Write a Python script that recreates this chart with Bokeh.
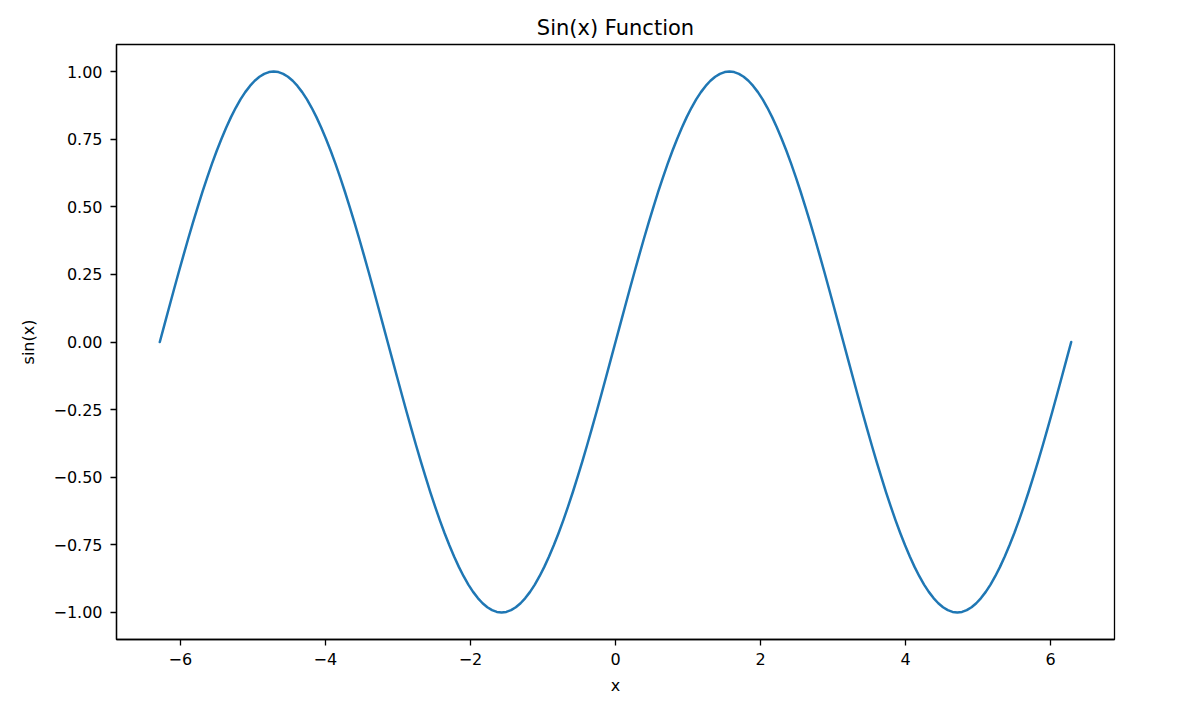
from bokeh.plotting import figure
from bokeh.models import Range1d, FixedTicker, CustomJSTickFormatter
from bokeh.embed import file_html
from bokeh.resources import INLINE

x_values = [
    -6.2832, -6.2177, -6.1523, -6.0868, -6.0214, -5.9559, -5.8905, -5.8250,
    -5.7596, -5.6941, -5.6287, -5.5632, -5.4978, -5.4323, -5.3669, -5.3014,
    -5.2360, -5.1705, -5.1051, -5.0396, -4.9742, -4.9087, -4.8433, -4.7778,
    -4.7124, -4.6469, -4.5815, -4.5160, -4.4506, -4.3851, -4.3197, -4.2542,
    -4.1888, -4.1233, -4.0579, -3.9924, -3.9270, -3.8615, -3.7961, -3.7306,
    -3.6652, -3.5997, -3.5343, -3.4688, -3.4034, -3.3379, -3.2725, -3.2070,
    -3.1416, -3.0761, -3.0107, -2.9452, -2.8798, -2.8143, -2.7489, -2.6834,
    -2.6180, -2.5525, -2.4871, -2.4216, -2.3562, -2.2907, -2.2253, -2.1598,
    -2.0944, -2.0289, -1.9635, -1.8980, -1.8326, -1.7671, -1.7017, -1.6362,
    -1.5708, -1.5053, -1.4399, -1.3744, -1.3090, -1.2435, -1.1781, -1.1126,
    -1.0472, -0.9817, -0.9163, -0.8508, -0.7854, -0.7199, -0.6545, -0.5890,
    -0.5236, -0.4581, -0.3927, -0.3272, -0.2618, -0.1963, -0.1309, -0.0654,
    0.0,
    0.0654, 0.1309, 0.1963, 0.2618, 0.3272, 0.3927, 0.4581, 0.5236,
    0.5890, 0.6545, 0.7199, 0.7854, 0.8508, 0.9163, 0.9817, 1.0472,
    1.1126, 1.1781, 1.2435, 1.3090, 1.3744, 1.4399, 1.5053, 1.5708,
    1.6362, 1.7017, 1.7671, 1.8326, 1.8980, 1.9635, 2.0289, 2.0944,
    2.1598, 2.2253, 2.2907, 2.3562, 2.4216, 2.4871, 2.5525, 2.6180,
    2.6834, 2.7489, 2.8143, 2.8798, 2.9452, 3.0107, 3.0761, 3.1416,
    3.2070, 3.2725, 3.3379, 3.4034, 3.4688, 3.5343, 3.5997, 3.6652,
    3.7306, 3.7961, 3.8615, 3.9270, 3.9924, 4.0579, 4.1233, 4.1888,
    4.2542, 4.3197, 4.3851, 4.4506, 4.5160, 4.5815, 4.6469, 4.7124,
    4.7778, 4.8433, 4.9087, 4.9742, 5.0396, 5.1051, 5.1705, 5.2360,
    5.3014, 5.3669, 5.4323, 5.4978, 5.5632, 5.6287, 5.6941, 5.7596,
    5.8250, 5.8905, 5.9559, 6.0214, 6.0868, 6.1523, 6.2177, 6.2832,
]

y_values = [
    0.0,
    0.0654, 0.1305, 0.1951, 0.2588, 0.3214, 0.3827, 0.4423, 0.5, 0.5556, 0.6088, 0.6593, 0.7071,
    0.7518, 0.7934, 0.8315, 0.866, 0.8969, 0.9239, 0.9469, 0.9659, 0.9808, 0.9914, 0.9979, 1.0,
    0.9979, 0.9914, 0.9808, 0.9659, 0.9469, 0.9239, 0.8969, 0.866, 0.8315, 0.7934, 0.7518, 0.7071,
    0.6593, 0.6088, 0.5556, 0.5, 0.4423, 0.3827, 0.3214, 0.2588, 0.1951, 0.1305, 0.0654, 0.0,
    -0.0654, -0.1305, -0.1951, -0.2588, -0.3214, -0.3827, -0.4423, -0.5, -0.5556, -0.6088, -0.6593, -0.7071,
    -0.7518, -0.7934, -0.8315, -0.866, -0.8969, -0.9239, -0.9469, -0.9659, -0.9808, -0.9914, -0.9979, -1.0,
    -0.9979, -0.9914, -0.9808, -0.9659, -0.9469, -0.9239, -0.8969, -0.866, -0.8315, -0.7934, -0.7518, -0.7071,
    -0.6593, -0.6088, -0.5556, -0.5, -0.4423, -0.3827, -0.3214, -0.2588, -0.1951, -0.1305, -0.0654, 0.0,
    0.0654, 0.1305, 0.1951, 0.2588, 0.3214, 0.3827, 0.4423, 0.5, 0.5556, 0.6088, 0.6593, 0.7071,
    0.7518, 0.7934, 0.8315, 0.866, 0.8969, 0.9239, 0.9469, 0.9659, 0.9808, 0.9914, 0.9979, 1.0,
    0.9979, 0.9914, 0.9808, 0.9659, 0.9469, 0.9239, 0.8969, 0.866, 0.8315, 0.7934, 0.7518, 0.7071,
    0.6593, 0.6088, 0.5556, 0.5, 0.4423, 0.3827, 0.3214, 0.2588, 0.1951, 0.1305, 0.0654, 0.0,
    -0.0654, -0.1305, -0.1951, -0.2588, -0.3214, -0.3827, -0.4423, -0.5, -0.5556, -0.6088, -0.6593, -0.7071,
    -0.7518, -0.7934, -0.8315, -0.866, -0.8969, -0.9239, -0.9469, -0.9659, -0.9808, -0.9914, -0.9979, -1.0,
    -0.9979, -0.9914, -0.9808, -0.9659, -0.9469, -0.9239, -0.8969, -0.866, -0.8315, -0.7934, -0.7518, -0.7071,
    -0.6593, -0.6088, -0.5556, -0.5, -0.4423, -0.3827, -0.3214, -0.2588, -0.1951, -0.1305, -0.0654, 0.0,
]

x_ticks = [-6, -4, -2, 0, 2, 4, 6]
y_ticks = [-1.0, -0.75, -0.5, -0.25, 0.0, 0.25, 0.5, 0.75, 1.0]

title_text = "Sin(x) Function"
x_label = "x"
y_label = "sin(x)"

FONT = "DejaVu Sans"

p = figure(
    frame_width=998, frame_height=595,
    min_border_left=116, min_border_right=80,
    min_border_top=44, min_border_bottom=60,
    x_range=Range1d(-6.88, 6.88), y_range=Range1d(-1.1, 1.1),
    output_backend="svg", toolbar_location=None,
    title=title_text,
)

p.line(x_values, y_values, line_color="#1f77b4", line_width=2.5,
       line_join="round", line_cap="round")

p.title.align = "center"
p.title.text_font = FONT
p.title.text_font_size = "21px"
p.title.text_font_style = "normal"
p.title.text_color = "black"
p.title.standoff = 10

p.xgrid.visible = False
p.ygrid.visible = False
p.outline_line_color = "black"
p.outline_line_width = 1.3
p.background_fill_color = "white"
p.border_fill_color = "white"

p.xaxis.ticker = FixedTicker(ticks=x_ticks)
p.yaxis.ticker = FixedTicker(ticks=y_ticks)
p.xaxis.formatter = CustomJSTickFormatter(
    code="return (tick < 0 ? '\u2212' : '') + Math.abs(tick).toFixed(0);")
p.yaxis.formatter = CustomJSTickFormatter(
    code="return (tick < 0 ? '\u2212' : '') + Math.abs(tick).toFixed(2);")

for ax in (p.xaxis[0], p.yaxis[0]):
    ax.axis_line_color = "black"
    ax.axis_line_width = 1.3
    ax.major_tick_line_color = "black"
    ax.major_tick_line_width = 1.3
    ax.major_tick_out = 6
    ax.major_tick_in = 0
    ax.minor_tick_out = 0
    ax.minor_tick_in = 0
    ax.major_label_text_font = FONT
    ax.major_label_text_font_size = "16px"
    ax.major_label_text_color = "black"
    ax.axis_label_text_font = FONT
    ax.axis_label_text_font_size = "16px"
    ax.axis_label_text_font_style = "normal"
    ax.axis_label_text_color = "black"

p.xaxis.axis_label = x_label
p.yaxis.axis_label = y_label
p.xaxis.major_label_standoff = 7
p.yaxis.major_label_standoff = 8
p.xaxis.axis_label_standoff = 8
p.yaxis.axis_label_standoff = 12

open("out.html", "w").write(file_html(p, INLINE))
